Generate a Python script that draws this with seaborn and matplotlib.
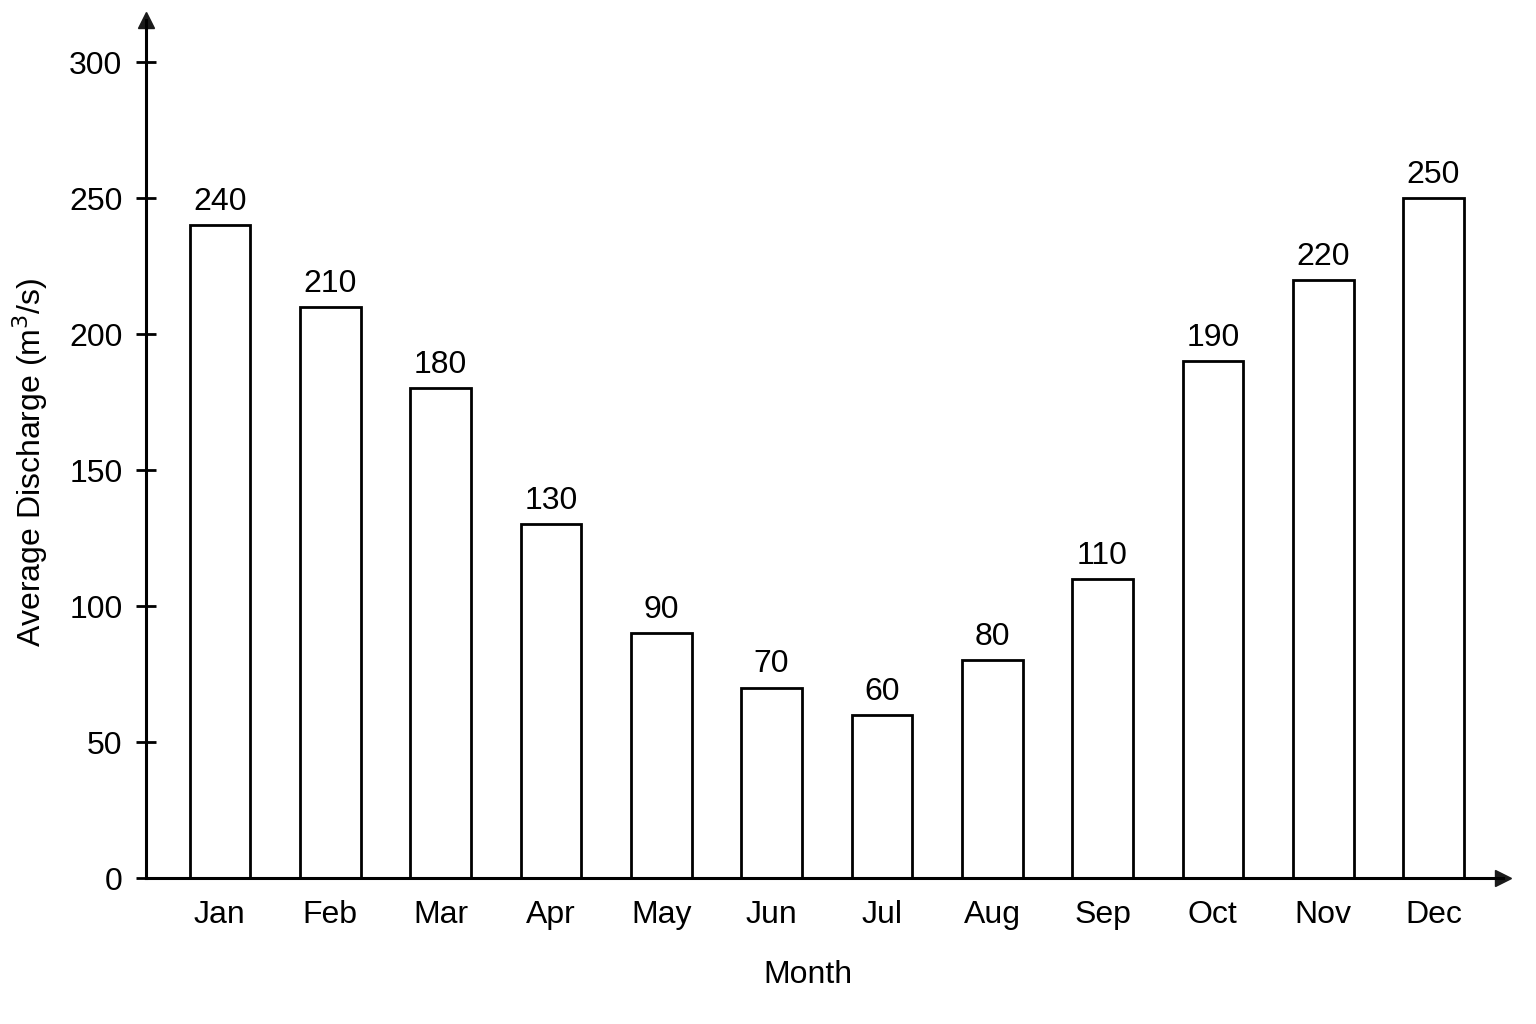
import matplotlib
matplotlib.use("Agg")
import matplotlib.pyplot as plt
import seaborn as sns
import pandas as pd

months = ["Jan", "Feb", "Mar", "Apr", "May", "Jun", "Jul", "Aug", "Sep", "Oct", "Nov", "Dec"]
discharge = [240, 210, 180, 130, 90, 70, 60, 80, 110, 190, 220, 250]
yticks = [0, 50, 100, 150, 200, 250, 300]

sns.set_theme(style="white")
plt.rcParams['font.family'] = ['Liberation Sans', 'DejaVu Sans']

df = pd.DataFrame({"Month": months, "Discharge": discharge})

fig = plt.figure(figsize=(15.36, 10.24), dpi=100)
ax = fig.add_axes([146/1536, 1-878/1024, (1503-146)/1536, (878-20)/1024])

sns.barplot(data=df, x="Month", y="Discharge", color="white", edgecolor="black",
            linewidth=2.0, width=0.55, ax=ax, saturation=1)

for p, v in zip(ax.patches, discharge):
    ax.text(p.get_x() + p.get_width()/2, v + 3, str(v), ha="center", va="bottom",
            fontsize=23, color="black")

ax.set_ylim(0, 315.5)
ax.set_xlim(-0.67, 11.63)
ax.set_yticks(yticks)
ax.set_yticklabels([str(t) for t in yticks])
ax.tick_params(axis="y", direction="inout", length=14, width=2, labelsize=23, pad=10, left=True, colors="black")
ax.tick_params(axis="x", length=0, labelsize=23, pad=16, colors="black")
for s in ["top", "right"]:
    ax.spines[s].set_visible(False)
for s in ["left", "bottom"]:
    ax.spines[s].set_linewidth(2.2)
    ax.spines[s].set_color("black")

ax.plot(1, 0, ">k", markersize=12, transform=ax.transAxes, clip_on=False)
ax.plot(0, 1, "^k", markersize=12, transform=ax.transAxes, clip_on=False)

ax.set_xlabel("Month", fontsize=23, color="black")
ax.set_ylabel("Average Discharge (m$^3$/s)", fontsize=23, color="black")
ax.yaxis.set_label_coords(-0.071, 0.485)
ax.xaxis.set_label_coords(0.488, -0.095)

fig.savefig("out.png", dpi=100, facecolor="white")
